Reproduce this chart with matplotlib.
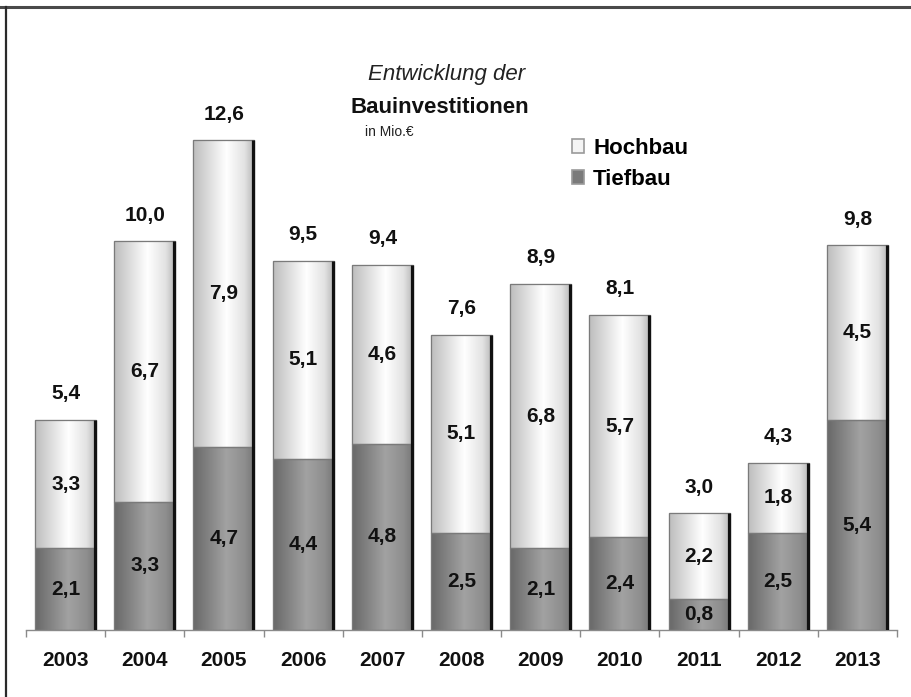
import numpy as np
import matplotlib
matplotlib.use("Agg")
import matplotlib.pyplot as plt
from matplotlib.patches import Patch
from matplotlib.colors import LinearSegmentedColormap
from matplotlib.lines import Line2D

plt.rcParams['font.family'] = ['Liberation Sans', 'DejaVu Sans']

years = ["2003", "2004", "2005", "2006", "2007", "2008", "2009", "2010", "2011", "2012", "2013"]
tiefbau = [2.1, 3.3, 4.7, 4.4, 4.8, 2.5, 2.1, 2.4, 0.8, 2.5, 5.4]
hochbau = [3.3, 6.7, 7.9, 5.1, 4.6, 5.1, 6.8, 5.7, 2.2, 1.8, 4.5]
totals = [5.4, 10.0, 12.6, 9.5, 9.4, 7.6, 8.9, 8.1, 3.0, 4.3, 9.8]

W, H = 911, 697
fig = plt.figure(figsize=(W / 100, H / 100), dpi=100)
fig.patch.set_facecolor("white")

# axes placed in pixel terms: baseline at y=630, x range 26..897
ax = fig.add_axes([26 / W, (H - 630) / H, (897 - 26) / W, (630 - 20) / H])
ax.set_xlim(-0.5, len(years) - 0.5)
ax.set_ylim(0, 15.7)

x = np.arange(len(years))
bw = 0.77

def fmt(v):
    return f"{v:.1f}".replace(".", ",")

cm_light = LinearSegmentedColormap.from_list(
    "light", [(0, "#bdbdbd"), (0.55, "#ffffff"), (0.85, "#e2e2e2"), (1, "#b8b8b8")])
cm_dark = LinearSegmentedColormap.from_list(
    "dark", [(0, "#686868"), (0.55, "#a2a2a2"), (0.85, "#8e8e8e"), (1, "#787878")])
grad = np.linspace(0, 1, 256).reshape(1, -1)

bars_t = ax.bar(x, tiefbau, bw, color="#8a8a8a", edgecolor="#777777", linewidth=0.8, zorder=2)
bars_h = ax.bar(x, hochbau, bw, bottom=tiefbau, color="#eeeeee", edgecolor="#8a8a8a",
                linewidth=0.8, zorder=2)

for bars, cmap in ((bars_t, cm_dark), (bars_h, cm_light)):
    for b in bars:
        x0, y0 = b.get_x(), b.get_y()
        im = ax.imshow(grad, cmap=cmap, aspect="auto", interpolation="bicubic",
                       extent=[x0, x0 + b.get_width(), y0, y0 + b.get_height()], zorder=2.5)
        im.set_clip_path(b)

# dark shadow line on the right edge of each column
tops = [t + h for t, h in zip(tiefbau, hochbau)]
ax.vlines(x + bw / 2 - 0.012, 0, tops, color="#111111", linewidth=2.3, zorder=3)
# outline redraw on top of gradients
for b in list(bars_t) + list(bars_h):
    ax.add_patch(plt.Rectangle((b.get_x(), b.get_y()), b.get_width(), b.get_height(),
                               fill=False, edgecolor="#7a7a7a", linewidth=0.9, zorder=2.8))

lab_kw = dict(ha="center", va="center", fontsize=15, fontweight="bold", color="#111111", zorder=4)
for i in range(len(years)):
    ax.text(x[i], tiefbau[i] / 2, fmt(tiefbau[i]), **lab_kw)
    ax.text(x[i], tiefbau[i] + hochbau[i] / 2, fmt(hochbau[i]), **lab_kw)
    ax.annotate(fmt(totals[i]), (x[i], tops[i]), xytext=(0, 15), textcoords="offset points",
                ha="center", va="baseline", fontsize=15, fontweight="bold", color="#111111")

for s in ("top", "right", "left"):
    ax.spines[s].set_visible(False)
ax.spines["bottom"].set_color("#8a8a8a")
ax.spines["bottom"].set_linewidth(1.0)
ax.set_yticks([])
ax.set_xticks(x)
ax.set_xticklabels(years, fontsize=15, fontweight="bold", color="#111111")
ax.tick_params(axis="x", which="major", length=0, pad=15)
ax.set_xticks(np.arange(len(years) + 1) - 0.5, minor=True)
ax.tick_params(axis="x", which="minor", length=5, width=1, color="#8a8a8a")
ax.set_facecolor("none")

# titles
fig.text(368 / W, 1 - 80 / H, "Entwicklung der", fontsize=16, fontstyle="italic",
         va="baseline", ha="left", color="#222222")
fig.text(350 / W, 1 - 113 / H, "Bauinvestitionen", fontsize=16, fontweight="bold",
         va="baseline", ha="left", color="#111111")
fig.text(365 / W, 1 - 136 / H, "in Mio.€", fontsize=10, va="baseline", ha="left",
         color="#222222")

handles = [Patch(facecolor="#f4f4f4", edgecolor="#9a9a9a", linewidth=1.2, label="Hochbau"),
           Patch(facecolor="#7a7a7a", edgecolor="#9a9a9a", linewidth=1.2, label="Tiefbau")]
fig.legend(handles=handles, loc="upper left", bbox_to_anchor=(552 / W, 1 - 118 / H),
           frameon=False, handlelength=0.55, handleheight=0.55, handletextpad=0.4,
           labelspacing=0.45, prop={"size": 16, "weight": "bold"})

# frame lines at top and left
fig.add_artist(Line2D([0, 1], [1 - 7 / H, 1 - 7 / H], transform=fig.transFigure,
                      color="#4a4a4a", linewidth=2.2))
fig.add_artist(Line2D([6 / W, 6 / W], [0, 1 - 7 / H], transform=fig.transFigure,
                      color="#2a2a2a", linewidth=1.6))

fig.savefig("out.png", dpi=100)
